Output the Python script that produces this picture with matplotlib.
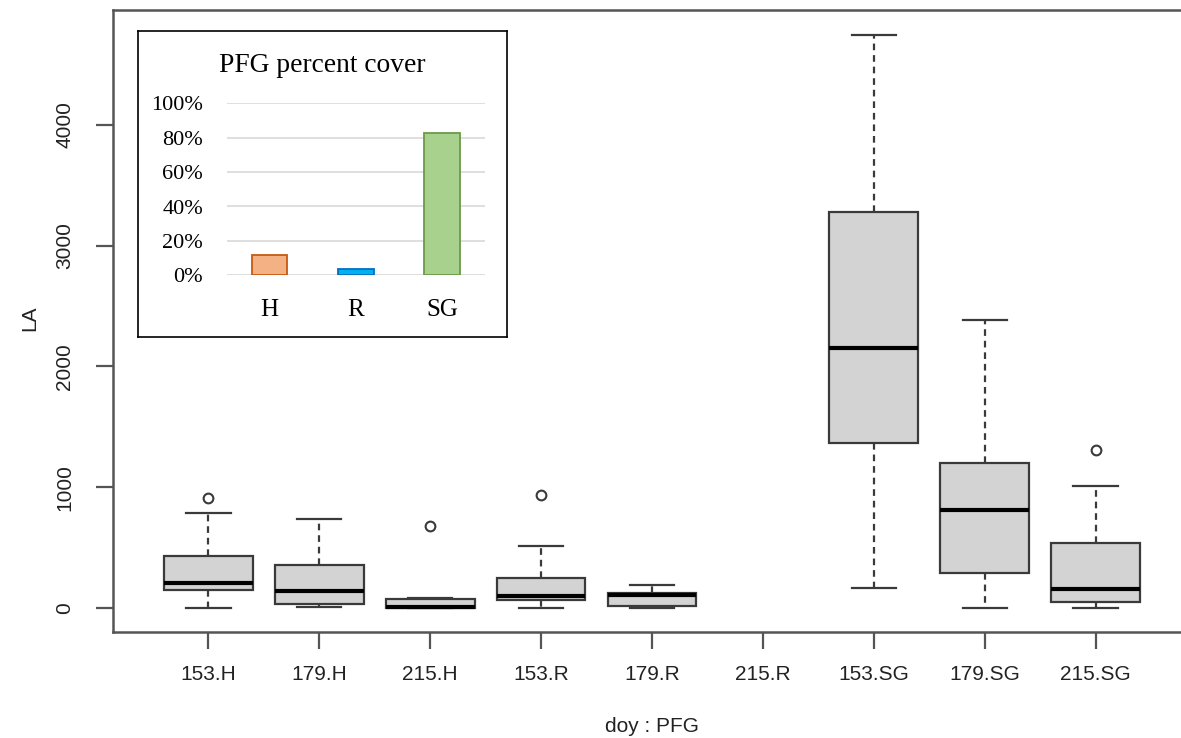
import matplotlib
matplotlib.use('Agg')
import matplotlib.pyplot as plt
import numpy as np

# boxplot data LA ~ doy : PFG
groups = ['153.H', '179.H', '215.H', '153.R', '179.R', '215.R', '153.SG', '179.SG', '215.SG']
whis_lo = [0, 10, 0, 0, 0, np.nan, 167, 0, 0]
q1 = [150, 33, 3, 66, 17, np.nan, 1367, 286, 50]
med = [207, 141, 11, 99, 110, np.nan, 2152, 810, 157]
q3 = [430, 356, 72, 251, 121, np.nan, 3278, 1198, 539]
whis_hi = [787, 737, 85, 516, 193, np.nan, 4748, 2382, 1013]
outliers = [[911], [], [679], [936], [], [], [], [], [1307]]

# inset bar chart
pfg = ['H', 'R', 'SG']
cover = [0.116, 0.035, 0.829]
bar_fill = ['#F4B183', '#00B0F0', '#A9D18E']
bar_edge = ['#C55A11', '#0070C0', '#6A9A4A']

W, H = 1181, 738
fig = plt.figure(figsize=(W / 100, H / 100), dpi=100)
sans = ['Liberation Sans', 'DejaVu Sans']
serif = ['Liberation Serif', 'DejaVu Serif']

ax = fig.add_axes([113 / W, 1 - 632 / H, (1191 - 113) / W, (632 - 10) / H])

stats = []
pos = []
for i, g in enumerate(groups):
    if np.isnan(med[i]):
        continue
    stats.append(dict(whislo=whis_lo[i], q1=q1[i], med=med[i], q3=q3[i],
                      whishi=whis_hi[i], fliers=outliers[i], label=g))
    pos.append(i + 1)

edge = '#3a3a3a'
ax.bxp(stats, positions=pos, widths=0.8, patch_artist=True, showfliers=True,
       capwidths=0.4,
       boxprops=dict(facecolor='#D3D3D3', edgecolor=edge, linewidth=1.6),
       whiskerprops=dict(color=edge, linewidth=1.6, linestyle=(0, (3, 2.2))),
       capprops=dict(color=edge, linewidth=1.6),
       medianprops=dict(color='black', linewidth=3),
       flierprops=dict(marker='o', markerfacecolor='white', markeredgecolor=edge,
                       markersize=7, markeredgewidth=1.5))

ax.set_xlim(0.14, 9.86)
ax.set_ylim(-199, 4952)
ax.set_xticks(range(1, 10))
ax.set_xticklabels(groups, family=sans, fontsize=15, color='#222222')
ax.set_yticks([0, 1000, 2000, 3000, 4000])
ax.set_yticklabels(['0', '1000', '2000', '3000', '4000'], family=sans, fontsize=15,
                   color='#222222', rotation=90, va='center')
ax.tick_params(axis='x', length=12, width=1.6, color='#555555', pad=12)
ax.tick_params(axis='y', length=12, width=1.6, color='#555555', pad=16)
for s in ax.spines.values():
    s.set_color('#555555')
    s.set_linewidth(1.8)

fig.text(30 / W, 1 - 318 / H, 'LA', rotation=90, ha='center', va='center',
         family=sans, fontsize=15, color='#222222')
fig.text(652 / W, 1 - 727 / H, 'doy : PFG', ha='center', va='center',
         family=sans, fontsize=15, color='#222222')

# inset frame
frame = fig.add_axes([138 / W, 1 - 337 / H, (507 - 138) / W, (337 - 31) / H])
frame.set_xticks([])
frame.set_yticks([])
for s in frame.spines.values():
    s.set_color('black')
    s.set_linewidth(1.2)
frame.set_facecolor('white')

ins = fig.add_axes([226.7 / W, 1 - 275.3 / H, (485 - 226.7) / W, 172 / H])
ins.set_facecolor('none')
ins.bar(range(len(pfg)), cover, width=0.41, color=bar_fill, edgecolor=bar_edge,
        linewidth=1.3, zorder=3)
ins.set_xlim(-0.5, 2.5)
ins.set_ylim(0, 1.0)
ins.set_yticks(np.arange(0, 1.01, 0.2))
ins.set_yticklabels([f'{int(round(v * 100))}%' for v in np.arange(0, 1.01, 0.2)],
                    family=serif, fontsize=16)
ins.set_xticks(range(len(pfg)))
ins.set_xticklabels(pfg, family=serif, fontsize=18)
ins.tick_params(axis='y', length=0, pad=17)
ins.tick_params(axis='x', length=0, pad=17)
ins.grid(axis='y', color='#D9D9D9', linewidth=1.2, zorder=0)
ins.set_axisbelow(True)
for s in ins.spines.values():
    s.set_visible(False)

fig.text(322.5 / W, 1 - 72 / H, 'PFG percent cover', ha='center', va='baseline',
         family=serif, fontsize=19.8)

fig.savefig('out.png', dpi=100)
